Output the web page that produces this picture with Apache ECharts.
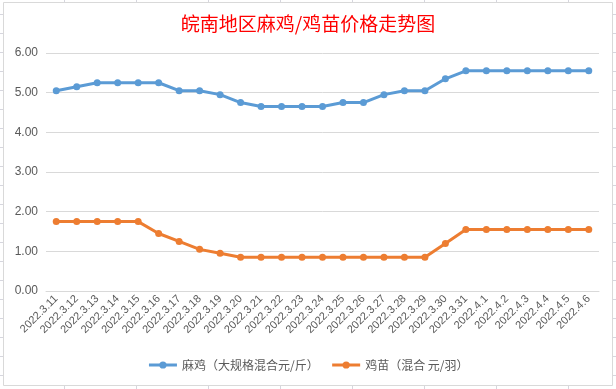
<!DOCTYPE html>
<html>
<head>
<meta charset="utf-8">
<script src="https://cdn.jsdelivr.net/npm/echarts@6/dist/echarts.min.js"></script>
<style>
html,body{margin:0;padding:0;background:#fff;}
#c{width:616px;height:389px;}
</style>
</head>
<body>
<div id="c"></div>
<script>
var categories = ['2022.3.11','2022.3.12','2022.3.13','2022.3.14','2022.3.15','2022.3.16','2022.3.17','2022.3.18','2022.3.19','2022.3.20','2022.3.21','2022.3.22','2022.3.23','2022.3.24','2022.3.25','2022.3.26','2022.3.27','2022.3.28','2022.3.29','2022.3.30','2022.3.31','2022.4.1','2022.4.2','2022.4.3','2022.4.4','2022.4.5','2022.4.6'];
var machi = [5.05,5.15,5.25,5.25,5.25,5.25,5.05,5.05,4.95,4.75,4.65,4.65,4.65,4.65,4.75,4.75,4.95,5.05,5.05,5.35,5.55,5.55,5.55,5.55,5.55,5.55,5.55];
var jimiao = [1.75,1.75,1.75,1.75,1.75,1.45,1.25,1.05,0.95,0.85,0.85,0.85,0.85,0.85,0.85,0.85,0.85,0.85,0.85,1.2,1.55,1.55,1.55,1.55,1.55,1.55,1.55];
var seriesNames = ['麻鸡（大规格混合元/斤）','鸡苗（混合 元/羽）'];
var titleText = '皖南地区麻鸡/鸡苗价格走势图';

var FONT = '"Liberation Sans","Noto Sans CJK SC",sans-serif';
var gridColor = '#d6d6de';

// Excel sheet background decoration (cell grid marks around the chart frame)
var deco = [];
var colXs = [64,136,208,280,352,424,496,568];
colXs.forEach(function(x){
  deco.push({type:'line',shape:{x1:x+0.5,y1:0,x2:x+0.5,y2:2},style:{stroke:gridColor,lineWidth:1},silent:true});
  deco.push({type:'line',shape:{x1:x+0.5,y1:386,x2:x+0.5,y2:389},style:{stroke:gridColor,lineWidth:1},silent:true});
});
for (var y=14; y<389; y+=19){
  deco.push({type:'line',shape:{x1:0,y1:y+0.5,x2:3,y2:y+0.5},style:{stroke:gridColor,lineWidth:1},silent:true});
  deco.push({type:'line',shape:{x1:613,y1:y+0.5,x2:616,y2:y+0.5},style:{stroke:gridColor,lineWidth:1},silent:true});
}
deco.push({type:'rect',shape:{x:3.5,y:2.5,width:609,height:383},style:{fill:'none',stroke:'#d9d9d9',lineWidth:1},silent:true});

var chart = echarts.init(document.getElementById('c'));
chart.setOption({
  backgroundColor:'#fff',
  animation:false,
  graphic: deco,
  title:{
    text:titleText,
    left:'center',
    top:9,
    textStyle:{color:'#ff0000',fontSize:19,fontWeight:'normal',fontFamily:'"Noto Sans CJK SC",sans-serif'}
  },
  legend:{
    bottom:13,
    left:'center',
    itemWidth:28,
    itemHeight:9,
    itemGap:12,
    lineStyle:{width:3},
    textStyle:{color:'#595959',fontSize:12,fontFamily:'"Noto Sans CJK SC",sans-serif'},
    data:seriesNames
  },
  grid:{left:46,right:17,top:53,bottom:98},
  xAxis:{
    type:'category',
    data:categories,
    boundaryGap:true,
    axisLine:{lineStyle:{color:'#d9d9d9'}},
    axisTick:{show:false},
    axisLabel:{rotate:45,interval:0,color:'#595959',fontSize:11,fontFamily:FONT,margin:6}
  },
  yAxis:{
    type:'value',
    min:0,max:6,interval:1,
    axisLine:{show:false},
    axisTick:{show:false},
    splitLine:{lineStyle:{color:'#d9d9d9'}},
    axisLabel:{color:'#595959',fontSize:12,fontFamily:FONT,margin:8,formatter:function(v){return v.toFixed(2);}}
  },
  series:[
    {name:seriesNames[0],type:'line',data:machi,symbol:'circle',symbolSize:7,
     lineStyle:{width:3,color:'#5b9bd5'},itemStyle:{color:'#5b9bd5'}},
    {name:seriesNames[1],type:'line',data:jimiao,symbol:'circle',symbolSize:7,
     lineStyle:{width:3,color:'#ed7d31'},itemStyle:{color:'#ed7d31'}}
  ]
});
</script>
</body>
</html>
